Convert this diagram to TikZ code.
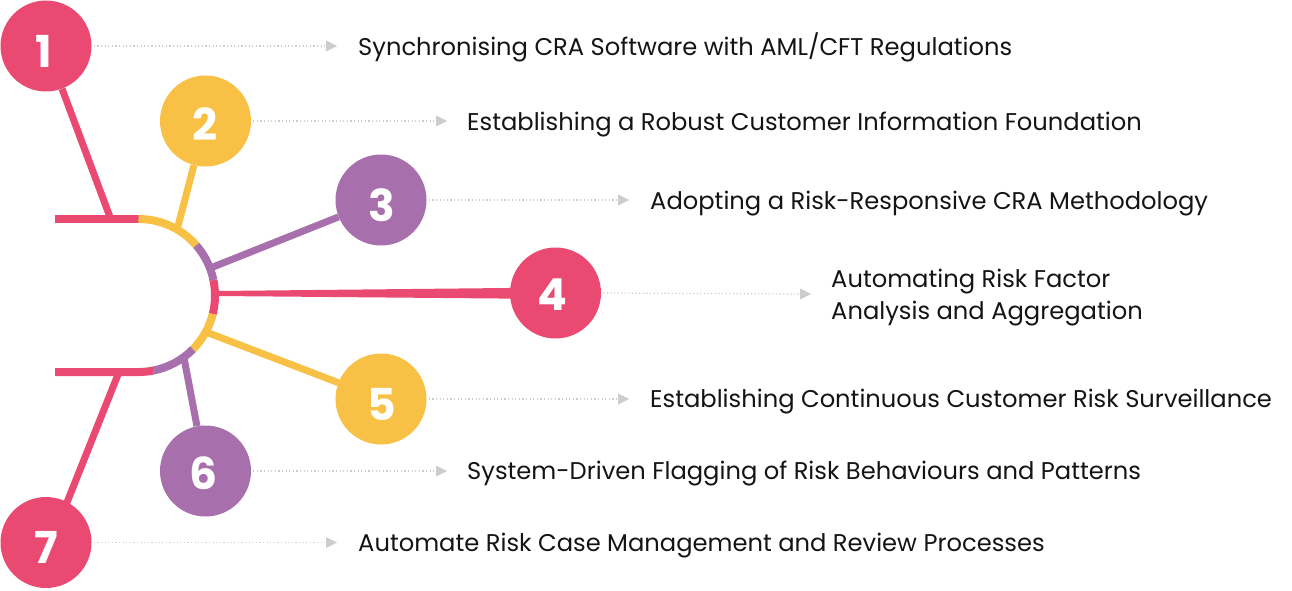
\documentclass[tikz,border=0pt]{standalone}
\usepackage{fontspec}
\setmainfont{Poppins}
\usetikzlibrary{calc}
\definecolor{cred}{HTML}{EA4A71}
\definecolor{cyel}{HTML}{F8C146}
\definecolor{cpur}{HTML}{A76FAC}
\definecolor{cdot}{HTML}{CDCDCD}
\tikzset{
  x=1pt,y=-1pt,
  num/.style={circle,minimum size=91pt,inner sep=0pt},
  dig/.style={inner sep=0pt,text=white,font=\fontsize{44pt}{44pt}\selectfont\bfseries},
  lab/.style={anchor=west,inner sep=0pt,align=left,text=black!92,font=\fontsize{24.2pt}{32pt}\selectfont},
  stem/.style={line width=7pt},
  arcseg/.style={line width=8pt},
  tri/.style={fill=cdot,draw=none},
  lead/.style={draw=cdot,line width=1.2pt,dash pattern=on 1.2pt off 2.4pt}
}
\newcommand{\leadto}[3]{% node, tip x, y
  \coordinate (t#1) at (#2,#3);
  \draw[lead] (n#1.east) ++(2,0) -- ($(t#1)+(-12,0)$);
  \fill[tri] ($(t#1)+(-11,-5.5)$) -- (t#1) -- ($(t#1)+(-11,5.5)$) -- cycle;
}
\begin{document}
\begin{tikzpicture}
\useasboundingbox (0,0) rectangle (1292,591);
\coordinate (c) at (138.5,295.5);
\coordinate (a1) at (110,217);
\coordinate (a2) at (178,226);
\coordinate (a3) at (213,267);
\coordinate (a4) at (217,293.5);
\coordinate (a5) at (206,332);
\coordinate (a6) at (184,358);
\coordinate (a7) at (119,372);
\coordinate (tl) at (55,219);
\coordinate (bl) at (55,372);
% stems under the circles
\node[num] (n1) at (46,46) {};
\node[num] (n2) at (205.5,121) {};
\node[num] (n3) at (381,200) {};
\node[num] (n4) at (555.5,293) {};
\node[num] (n5) at (381,399) {};
\node[num] (n6) at (205.5,471) {};
\node[num] (n7) at (46,542.5) {};
\draw[stem,cred] (n1) -- (a1);
\draw[stem,cyel] (n2) -- (a2);
\draw[stem,cpur] (n3) -- (a3);
\fill[cred] ($(a4)+(0,-2.5)$) -- ($(n4)+(0,-5.5)$) -- ($(n4)+(0,6)$) -- ($(a4)+(0,2.5)$) -- cycle;
\draw[stem,cyel] (n5) -- (a5);
\draw[stem,cpur] (n6) -- (a6);
\draw[stem,cred] ($(n7)+(5,0)$) -- (a7);
% the arc
\draw[arcseg,cred] (tl) -- (139,219);
\draw[arcseg,cyel] (138.5,219) arc[start angle=-90,delta angle=49,radius=76.5];
\draw[arcseg,cpur] ($(c)+(-41:76.5)$) arc[start angle=-41,delta angle=29.4,radius=76.5];
\draw[arcseg,cred] ($(c)+(-11.6:76.5)$) arc[start angle=-11.6,delta angle=25.6,radius=76.5];
\draw[arcseg,cyel] ($(c)+(14:76.5)$) arc[start angle=14,delta angle=30.6,radius=76.5];
\draw[arcseg,cpur] ($(c)+(44.6:76.5)$) arc[start angle=44.6,delta angle=34.2,radius=76.5];
\draw[arcseg,cred] ($(c)+(78.8:76.5)$) arc[start angle=78.8,delta angle=11.2,radius=76.5] -- (bl);
% circles on top
\foreach \n/\col in {1/cred,2/cyel,3/cpur,4/cred,5/cyel,6/cpur,7/cred}
  \fill[\col] (n\n) circle[radius=45.5];
\node[dig] (d1) at (44,51) {1};
\node[dig] (d2) at (205,124) {2};
\node[dig] (d3) at (381.5,205) {3};
\node[dig] (d4) at (552,295) {4};
\node[dig] (d5) at (382,404) {5};
\node[dig] (d6) at (204,473) {6};
\node[dig] (d7) at (46,547) {7};
% leaders
\leadto{1}{337}{46}
\leadto{2}{447}{121}
\leadto{3}{629}{200}
\leadto{4}{811}{294}
\leadto{5}{629}{399}
\leadto{6}{447}{471}
\leadto{7}{337}{542.5}
% labels
\node[lab] (l1) at (358,47.5) {Synchronising CRA Software with AML/CFT Regulations};
\node[lab] (l2) at (467,124.5) {Establishing a Robust Customer Information Foundation};
\node[lab] (l3) at (650,204) {Adopting a Risk-Responsive CRA Methodology};
\node[lab] (l4) at (831,298) {Automating Risk Factor\\Analysis and Aggregation};
\node[lab] (l5) at (650,402) {Establishing Continuous Customer Risk Surveillance};
\node[lab] (l6) at (467,474) {System-Driven Flagging of Risk Behaviours and Patterns};
\node[lab] (l7) at (358,546) {Automate Risk Case Management and Review Processes};
\end{tikzpicture}
\end{document}
